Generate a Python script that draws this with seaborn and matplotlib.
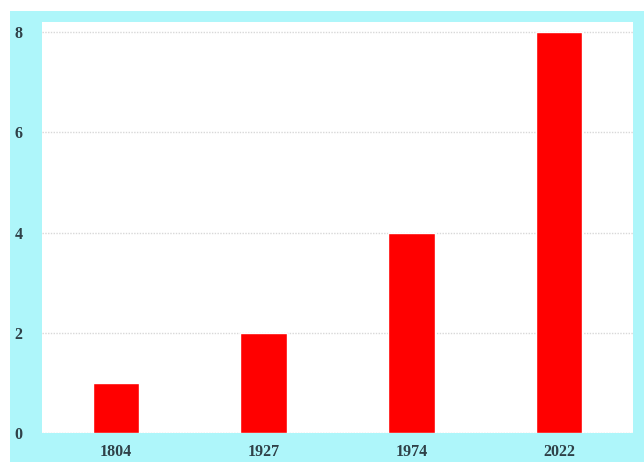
import matplotlib
matplotlib.use("Agg")
import matplotlib.pyplot as plt
import seaborn as sns
import pandas as pd
from matplotlib.patches import Rectangle

years = ["1804", "1927", "1974", "2022"]
values = [1, 2, 4, 8]
yticks = [0, 2, 4, 6, 8]

sns.set_style("white")
plt.rcParams['font.family'] = ['Liberation Serif', 'DejaVu Serif']

df = pd.DataFrame({"year": years, "value": values})

fig = plt.figure(figsize=(6.44, 4.62), dpi=100)
fig.patch.set_facecolor("white")
bg = Rectangle((10/644, 0), 1 - 10/644, 1 - 11/462, transform=fig.transFigure,
               facecolor="#aef6fa", edgecolor="none", zorder=-5)
fig.add_artist(bg)

ax = fig.add_axes([42/644, 1 - 433/462, 591/644, 411/462])
ax.set_zorder(5)
ax.set_facecolor("white")
sns.barplot(data=df, x="year", y="value", color="#ff0000", width=0.315,
            saturation=1, ax=ax, zorder=3)
ax.set_xlim(-0.5, 3.5)
ax.set_ylim(0, 8.2)
ax.set_yticks(yticks)
ax.set_yticklabels([str(t) for t in yticks])
ax.yaxis.grid(True, linestyle=(0, (1, 1)), color="#d8d8d8", linewidth=1, zorder=0)
ax.set_axisbelow(True)
for s in ax.spines.values():
    s.set_visible(False)
ax.tick_params(axis="both", length=0, labelsize=11.5, labelcolor="#2f4148")
ax.tick_params(axis="y", pad=14)
ax.tick_params(axis="x", pad=8)
for lbl in ax.get_xticklabels() + ax.get_yticklabels():
    lbl.set_fontweight("bold")
ax.set_xlabel("")
ax.set_ylabel("")

fig.savefig("out.png", dpi=100)
